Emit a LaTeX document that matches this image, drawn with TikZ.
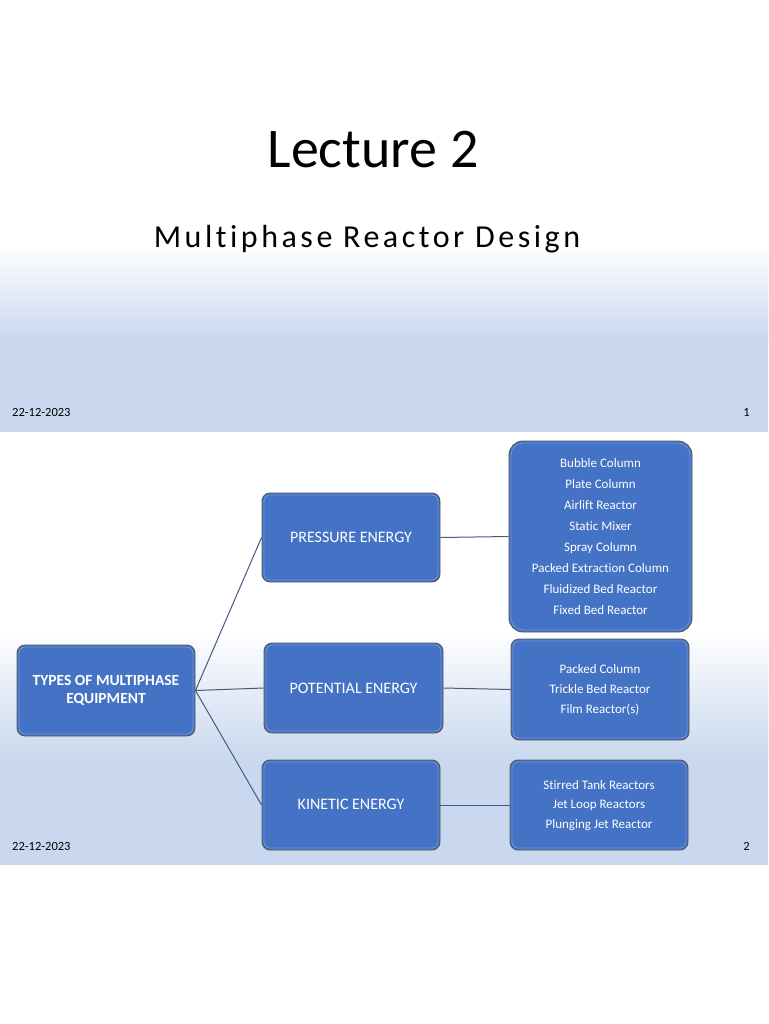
\documentclass[tikz,border=0pt]{standalone}
\usepackage{fontspec}
\setmainfont{Carlito}[Ligatures=NoCommon]
\newfontfamily\spacedfont{Carlito}[LetterSpace=11,Ligatures=NoCommon]
\begin{document}
\begin{tikzpicture}[x=1pt,y=-1pt,
  bg/.style={fill={rgb,255:red,201;green,216;blue,238}},
  box/.style={draw={rgb,255:red,90;green,90;blue,90},line width=0.9pt,fill={rgb,255:red,68;green,114;blue,196},rounded corners=8pt,text=white,align=center,inner sep=0pt,font=\fontsize{16}{19}\selectfont},
  listbox/.style={box,font=\fontsize{13}{21}\selectfont},
  conn/.style={draw={rgb,255:red,68;green,90;blue,130},line width=1pt},
  inner/.style={draw={rgb,255:red,143;green,170;blue,220},line width=0.8pt,rounded corners=6pt},
  foot/.style={anchor=base west,font=\fontsize{12.5}{14}\selectfont,inner sep=0pt}
]
\useasboundingbox (0,0) rectangle (768,1024);
\fill[white] (0,0) rectangle (768,1024);
% slide 1 background
\shade[top color=white,bottom color={rgb,255:red,201;green,216;blue,238}] (0,245) rectangle (768,340);
\fill[bg] (0,339.5) rectangle (768,432);
% slide 2 background
\shade[top color=white,bottom color={rgb,255:red,201;green,216;blue,238}] (0,630) rectangle (768,760);
\fill[bg] (0,759.5) rectangle (768,865);
% slide 1 text
\node[inner sep=0pt,font=\fontsize{56}{64}\selectfont] (title) at (373,150) {Lecture 2};
\node[inner sep=0pt,font=\spacedfont\fontsize{32}{38}\selectfont] (sub) at (367,239) {Multiphase Reactor Design};
\node[foot] (d1) at (12,416) {22-12-2023};
\node[foot,anchor=base east] (p1) at (750,416) {1};
% slide 2
\node[foot] (d2) at (12,850) {22-12-2023};
\node[foot,anchor=base east] (p2) at (750,850) {2};

\node[box,minimum width=178pt,minimum height=91pt,font=\bfseries\fontsize{15.5}{18}\selectfont] (root) at (106,690.5) {TYPES OF MULTIPHASE\\EQUIPMENT};
\node[box,minimum width=178pt,minimum height=89pt] (pres) at (351,537.5) {PRESSURE ENERGY};
\node[box,minimum width=179pt,minimum height=90pt] (pot) at (353.5,688) {POTENTIAL ENERGY};
\node[box,minimum width=178pt,minimum height=90pt] (kin) at (351,805) {\raisebox{2pt}{KINETIC ENERGY}};
\node[listbox,rounded corners=14pt,minimum width=183pt,minimum height=191pt] (b1) at (600.5,536.5) {Bubble Column\\Plate Column\\Airlift Reactor\\Static Mixer\\Spray Column\\Packed Extraction Column\\Fluidized Bed Reactor\\Fixed Bed Reactor};
\node[listbox,font=\fontsize{13}{20}\selectfont,minimum width=178pt,minimum height=101pt] (b2) at (600,689.5) {Packed Column\\Trickle Bed Reactor\\Film Reactor(s)};
\node[listbox,font=\fontsize{13}{19.5}\selectfont,minimum width=178pt,minimum height=90pt] (b3) at (599,805) {\raisebox{1.5pt}{\begin{tabular}{@{}c@{}}Stirred Tank Reactors\\[0pt]Jet Loop Reactors\\Plunging Jet Reactor\end{tabular}}};

\foreach \n in {root,pres,pot,kin,b2,b3}
  \draw[inner,opacity=0.6] ([shift={(2.5,2.5)}]\n.north west) rectangle ([shift={(-2.5,-2.5)}]\n.south east);
\draw[inner,opacity=0.6,rounded corners=12pt] ([shift={(2.5,2.5)}]b1.north west) rectangle ([shift={(-2.5,-2.5)}]b1.south east);

\draw[conn] (root.east) -- (pres.west);
\draw[conn] (root.east) -- (pot.west);
\draw[conn] (root.east) -- (kin.west);
\draw[conn] (pres.east) -- (b1.west);
\draw[conn] (pot.east) -- (b2.west);
\draw[conn] (kin.east) -- (b3.west);
\end{tikzpicture}
\end{document}
